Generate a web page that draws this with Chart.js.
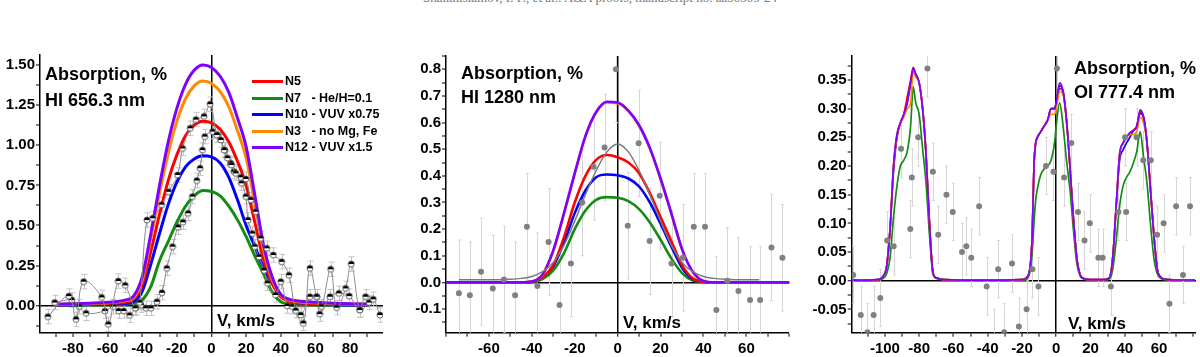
<!DOCTYPE html>
<html>
<head>
<meta charset="utf-8">
<title>Absorption profiles</title>
<script src="https://cdn.jsdelivr.net/npm/chart.js@4.4.1/dist/chart.umd.min.js"></script>
<style>
  html, body { margin: 0; padding: 0; background: #fff; }
  body { position: relative; width: 1200px; height: 357px; overflow: hidden;
         font-family: 'Liberation Sans', Arial, sans-serif; color: #000; }
  .panel { position: absolute; top: 0; width: 400px; height: 357px; }
  .panel canvas { position: absolute; left: 0; top: 0; }
  .note { position: absolute; font-weight: bold; font-size: 18px; line-height: 20px; white-space: nowrap; }
  .vlabel { position: absolute; font-weight: bold; font-size: 17px; line-height: 20px; white-space: nowrap; }
  .legend { position: absolute; left: 252px; top: 73px; font-weight: bold; font-size: 12.5px; }
  .legend .row { height: 16.5px; line-height: 16.5px; white-space: pre; }
  .legend .sw { display: inline-block; width: 31px; height: 3px; vertical-align: middle; margin-right: 2px; }
  .runhead { position: absolute; top: -10px; left: 0; width: 1200px; text-align: center;
             font: 13px 'Liberation Serif', serif; color: #777; }
</style>
</head>
<body>
<div class="runhead">Shaikhislamov, I. F., et al.: A&amp;A proofs, manuscript no. aa50309-24</div>

<div class="panel" style="left:0px"><canvas id="p1" width="400" height="357"></canvas></div>
<div class="panel" style="left:400px"><canvas id="p2" width="400" height="357"></canvas></div>
<div class="panel" style="left:800px"><canvas id="p3" width="400" height="357"></canvas></div>

<div class="note" style="left:45px; top:64px">Absorption, %</div>
<div class="note" style="left:45px; top:90px">HI 656.3 nm</div>
<div class="note" style="left:461px; top:63px">Absorption, %</div>
<div class="note" style="left:461px; top:87px">HI 1280 nm</div>
<div class="note" style="left:1074px; top:58px">Absorption, %</div>
<div class="note" style="left:1074px; top:82px">OI 777.4 nm</div>

<div class="vlabel" style="left:217px; top:311px">V, km/s</div>
<div class="vlabel" style="left:623px; top:313px">V, km/s</div>
<div class="vlabel" style="left:1068px; top:314px">V, km/s</div>

<div class="legend" id="legend"></div>

<script>
'use strict';

/* ─── Panel 1 : HI 656.3 nm ───────────────────────────── */
const P1_V   = [-90, -80, -70, -60, -50, -45, -40, -35, -30, -25, -20, -15, -10, -5, 0, 5, 10, 15, 20, 25, 30, 35, 40, 45, 50, 60, 70, 80, 90];
const P1_N5  = [0.006, 0.007, 0.010, 0.014, 0.022, 0.040, 0.130, 0.340, 0.570, 0.780, 0.940, 1.060, 1.125, 1.150, 1.140, 1.100, 1.020, 0.900, 0.750, 0.520, 0.290, 0.140, 0.055, 0.028, 0.018, 0.012, 0.009, 0.007, 0.006];
const P1_N7  = [0.002, 0.003, 0.004, 0.005, 0.008, 0.015, 0.035, 0.120, 0.280, 0.400, 0.520, 0.620, 0.685, 0.718, 0.712, 0.685, 0.620, 0.535, 0.430, 0.310, 0.200, 0.085, 0.025, 0.010, 0.006, 0.004, 0.003, 0.003, 0.002];
const P1_N10 = [0.004, 0.005, 0.007, 0.009, 0.014, 0.025, 0.090, 0.260, 0.450, 0.630, 0.770, 0.865, 0.915, 0.935, 0.927, 0.890, 0.800, 0.660, 0.500, 0.370, 0.240, 0.140, 0.060, 0.030, 0.018, 0.010, 0.007, 0.005, 0.004];
const P1_N3  = [0.008, 0.010, 0.013, 0.018, 0.030, 0.050, 0.160, 0.420, 0.700, 0.950, 1.150, 1.290, 1.370, 1.400, 1.385, 1.335, 1.240, 1.090, 0.920, 0.640, 0.350, 0.165, 0.065, 0.035, 0.025, 0.018, 0.013, 0.010, 0.008];
const P1_N12 = [0.010, 0.012, 0.016, 0.022, 0.035, 0.060, 0.180, 0.450, 0.750, 1.020, 1.230, 1.380, 1.467, 1.500, 1.485, 1.430, 1.330, 1.170, 0.990, 0.690, 0.380, 0.180, 0.070, 0.040, 0.030, 0.022, 0.016, 0.012, 0.010];

// two observed transits
const P1_OBS_A_V = [-94.5, -82.4, -78.2, -73.8, -63.4, -59.6, -53.8, -49.8, -44.0, -41.5, -37.3, -34.0, -28.8, -24.8, -19.6, -16.7, -12.3, -9.0, -4.3, -0.8, 3.1, 5.4, 7.3, 9.2, 11.5, 14.0, 17.0, 19.8, 22.7, 25.5, 28.4, 31.9, 35.7, 40.5, 44.7, 48.6, 53.0, 56.8, 60.7, 63.4, 68.8, 72.2, 77.4, 80.7, 85.6, 88.9, 93.4, 97.2];
const P1_OBS_A   = [-0.068, 0.060, -0.085, 0.150, 0.052, -0.116, 0.154, 0.127, -0.016, 0.020, 0.534, 0.545, 0.630, 0.710, 0.815, 0.980, 1.106, 1.160, 1.180, 1.256, 1.064, 1.033, 0.970, 0.920, 0.877, 0.825, 0.800, 0.790, 0.660, 0.586, 0.420, 0.358, 0.316, 0.274, 0.190, -0.030, -0.110, 0.233, 0.056, -0.006, 0.227, -0.012, 0.108, 0.260, -0.027, 0.056, 0.040, -0.058];
const P1_OBS_B_V = [-90.5, -80.7, -76.3, -72.4, -61.5, -56.7, -53.6, -50.7, -47.3, -43.6, -40.7, -37.9, -35.0, -31.5, -28.6, -25.8, -22.5, -19.3, -16.5, -13.5, -11.0, -8.5, -6.6, -5.2, -3.9, 0.6, 3.5, 7.7, 11.1, 13.0, 17.3, 19.8, 21.1, 23.6, 25.0, 27.4, 30.3, 32.3, 37.0, 40.0, 43.8, 46.7, 51.5, 56.8, 60.7, 62.4, 68.4, 73.5, 79.5, 85.6, 91.0];
const P1_OBS_B   = [0.020, 0.036, -0.006, -0.047, -0.033, -0.006, -0.033, -0.033, -0.060, -0.012, 0.004, -0.016, -0.016, 0.025, 0.081, 0.233, 0.368, 0.489, 0.520, 0.576, 0.680, 0.780, 0.857, 0.970, 1.054, 1.085, 1.064, 0.970, 0.888, 0.835, 0.763, 0.680, 0.534, 0.450, 0.368, 0.305, 0.220, 0.140, 0.067, 0.150, -0.002, -0.006, -0.058, 0.056, 0.056, -0.052, 0.056, 0.077, 0.060, -0.027, 0.020];
const P1_ERR = 0.045;

/* ─── Panel 2 : HI 1280 nm ────────────────────────────── */
const P2_V   = [-80, -45, -40, -35, -30, -25, -20, -15, -10, -5, 0, 5, 10, 15, 20, 25, 30, 35, 40, 45, 80];
const P2_N5  = [0, 0, 0.002, 0.020, 0.065, 0.170, 0.300, 0.400, 0.460, 0.478, 0.470, 0.450, 0.410, 0.335, 0.245, 0.155, 0.065, 0.015, 0.002, 0, 0];
const P2_N7  = [0, 0, 0.001, 0.012, 0.045, 0.110, 0.200, 0.270, 0.310, 0.320, 0.318, 0.305, 0.275, 0.225, 0.160, 0.090, 0.035, 0.007, 0.001, 0, 0];
const P2_N10 = [0, 0, 0.002, 0.020, 0.060, 0.150, 0.260, 0.345, 0.395, 0.405, 0.402, 0.390, 0.360, 0.300, 0.220, 0.135, 0.055, 0.012, 0.002, 0, 0];
const P2_N3  = [0, 0, 0.003, 0.029, 0.118, 0.258, 0.408, 0.548, 0.638, 0.676, 0.673, 0.643, 0.588, 0.503, 0.388, 0.258, 0.124, 0.040, 0.005, 0, 0];
const P2_N12 = [0, 0, 0.003, 0.030, 0.120, 0.260, 0.410, 0.550, 0.640, 0.678, 0.675, 0.645, 0.590, 0.505, 0.390, 0.260, 0.125, 0.040, 0.005, 0, 0];

const P2_FIT_V = [-74, -60, -50, -45, -40, -35, -30, -25, -20, -15, -10, -5, 0, 5, 10, 15, 20, 25, 30, 35, 40, 45, 50, 60, 66];
const P2_FIT   = [0.010, 0.010, 0.012, 0.015, 0.022, 0.040, 0.075, 0.140, 0.230, 0.330, 0.420, 0.490, 0.520, 0.490, 0.420, 0.330, 0.230, 0.140, 0.075, 0.040, 0.022, 0.015, 0.012, 0.010, 0.010];

const P2_OBS_V = [-74, -68.9, -63.7, -58.2, -53, -47.8, -42.3, -37.4, -32.2, -27.1, -21.8, -16.5, -11.2, -6.1, -0.8, 4.7, 9.8, 14.9, 19.6, 25.1, 30.4, 35.5, 40.7, 46, 51.1, 56.3, 61.7, 66.4, 71.7, 76.8];
const P2_OBS   = [-0.041, -0.048, 0.040, -0.023, 0.011, -0.048, 0.209, -0.014, 0.152, -0.085, 0.071, 0.300, 0.434, 0.506, 0.800, 0.213, 0.522, 0.155, 0.325, 0.071, 0.092, 0.209, 0.209, -0.104, 0.006, -0.032, -0.066, -0.066, 0.131, 0.092];
const P2_ERR = 0.2;

/* ─── Panel 3 : OI 777.4 nm ───────────────────────────── */
const P3_V   = [-120, -104, -101, -99, -97, -95, -93, -91, -89, -87, -85, -83.5, -82, -80, -78, -76, -74, -72, -70, -66, -40, -20, -17, -15, -14, -13, -12, -11, -9, -7, -5, -3, -1, 0, 2, 4, 6, 8, 10, 12, 14, 16, 20, 28, 31, 33, 35, 37, 39, 41, 43, 45, 47, 49, 51, 53, 55, 57, 59, 61, 63, 66, 81];
const P3_N5  = [0.001, 0.002, 0.008, 0.025, 0.090, 0.200, 0.250, 0.275, 0.290, 0.320, 0.350, 0.372, 0.360, 0.345, 0.300, 0.220, 0.100, 0.015, 0.005, 0.002, 0.001, 0.002, 0.006, 0.030, 0.080, 0.200, 0.240, 0.250, 0.260, 0.270, 0.280, 0.300, 0.300, 0.310, 0.335, 0.330, 0.280, 0.200, 0.110, 0.040, 0.010, 0.004, 0.002, 0.002, 0.005, 0.040, 0.130, 0.220, 0.240, 0.250, 0.258, 0.262, 0.270, 0.295, 0.285, 0.240, 0.160, 0.080, 0.020, 0.006, 0.003, 0.002, 0.001];
const P3_N7  = [0.001, 0.001, 0.004, 0.012, 0.040, 0.110, 0.165, 0.200, 0.210, 0.225, 0.270, 0.338, 0.310, 0.290, 0.230, 0.170, 0.080, 0.012, 0.004, 0.002, 0.001, 0.001, 0.003, 0.020, 0.050, 0.100, 0.140, 0.160, 0.185, 0.195, 0.200, 0.210, 0.240, 0.270, 0.310, 0.270, 0.210, 0.160, 0.090, 0.030, 0.008, 0.003, 0.001, 0.001, 0.003, 0.020, 0.070, 0.130, 0.165, 0.180, 0.190, 0.205, 0.225, 0.260, 0.215, 0.170, 0.100, 0.040, 0.012, 0.004, 0.002, 0.001, 0.001];
const P3_N10 = [0.001, 0.002, 0.008, 0.025, 0.090, 0.190, 0.250, 0.275, 0.290, 0.310, 0.345, 0.365, 0.360, 0.345, 0.300, 0.220, 0.100, 0.015, 0.005, 0.002, 0.001, 0.002, 0.006, 0.030, 0.080, 0.200, 0.240, 0.250, 0.260, 0.270, 0.280, 0.300, 0.300, 0.310, 0.340, 0.330, 0.280, 0.200, 0.110, 0.040, 0.010, 0.004, 0.002, 0.002, 0.005, 0.040, 0.130, 0.210, 0.228, 0.240, 0.250, 0.262, 0.268, 0.292, 0.285, 0.240, 0.160, 0.080, 0.020, 0.006, 0.003, 0.002, 0.001];
const P3_N3  = [0.001, 0.002, 0.008, 0.025, 0.090, 0.200, 0.255, 0.275, 0.285, 0.300, 0.310, 0.365, 0.355, 0.345, 0.300, 0.220, 0.100, 0.015, 0.005, 0.002, 0.001, 0.002, 0.006, 0.030, 0.080, 0.200, 0.240, 0.250, 0.260, 0.270, 0.280, 0.290, 0.290, 0.300, 0.330, 0.325, 0.280, 0.200, 0.110, 0.040, 0.010, 0.004, 0.002, 0.002, 0.005, 0.040, 0.130, 0.220, 0.240, 0.250, 0.255, 0.255, 0.260, 0.285, 0.275, 0.240, 0.160, 0.080, 0.020, 0.006, 0.003, 0.002, 0.001];
const P3_N12 = [0.001, 0.002, 0.008, 0.025, 0.090, 0.200, 0.255, 0.275, 0.290, 0.310, 0.345, 0.370, 0.360, 0.345, 0.300, 0.220, 0.100, 0.015, 0.005, 0.002, 0.001, 0.002, 0.006, 0.030, 0.080, 0.200, 0.240, 0.250, 0.260, 0.270, 0.280, 0.300, 0.300, 0.310, 0.345, 0.330, 0.280, 0.200, 0.110, 0.040, 0.010, 0.004, 0.002, 0.002, 0.005, 0.040, 0.130, 0.220, 0.240, 0.250, 0.258, 0.262, 0.268, 0.298, 0.285, 0.240, 0.160, 0.080, 0.020, 0.006, 0.003, 0.002, 0.001];

const P3_OBS_V = [-118.5, -114.1, -110.2, -106.6, -102.7, -98.7, -94.9, -90.6, -85.2, -84.3, -80.6, -75.2, -72, -68.9, -64.1, -60.4, -55, -52.5, -49.6, -45, -40.6, -36.2, -33.9, -30.4, -25.8, -21.8, -17.3, -13.9, -10.4, -6, -1.6, 0.4, 4.6, 8.8, 12.7, 16.5, 19.6, 24.6, 27.1, 31.9, 36.3, 40.2, 40.8, 46.9, 50.8, 55.2, 58.9, 62.7, 66.1, 70, 74, 78.1];
const P3_OBS   = [0.01, -0.06, -0.09, -0.06, -0.03, 0.07, 0.06, 0.23, 0.09, 0.18, 0.25, 0.37, 0.19, 0.08, 0.15, 0.12, 0.05, 0.06, 0.04, 0.13, -0.01, -0.10, 0.02, -0.09, 0.03, -0.08, -0.05, 0.02, -0.01, 0.20, 0.19, 0.37, 0.18, 0.24, 0.12, 0.07, 0.10, 0.04, 0.04, -0.01, 0.12, 0.25, 0.12, 0.25, 0.21, 0.21, 0.08, 0.10, -0.04, 0.13, 0.01, 0.13];
const P3_ERR = 0.05;

/* ─── Legend / series names ───────────────────────────── */
const MODEL_KEYS  = ['N5', 'N7', 'N10', 'N3', 'N12'];
const MODEL_NAMES = ['N5', 'N7   - He/H=0.1', 'N10 - VUV x0.75', 'N3   - no Mg, Fe', 'N12 - VUV x1.5'];

const COLORS = {
  N5:  '#ff0000',
  N7:  '#148c14',
  N10: '#0000ff',
  N3:  '#ff8a00',
  N12: '#8000ff',
  obsLine: '#8a8a8a',
  obsDot:  '#808080',
  fitLine: '#7a7a7a',
  errLight: '#d6d6d6',
  errMid:   '#c4c4c4',
};
// which model sits on top (lower = drawn later)
const MODEL_ORDER = { N12: 1, N3: 2, N5: 3, N10: 4, N7: 5 };

const FONT_FAMILY = "'Liberation Sans', Arial, sans-serif";

function pts(xs, ys) {
  return xs.map((x, i) => ({ x, y: ys[i] }));
}

function isMultiple(v, m) {
  const q = v / m;
  return Math.abs(q - Math.round(q)) < 1e-6;
}

/* half-black, half-white marker used for the Hα data */
function halfDot(r) {
  const size = Math.ceil(2 * r + 2);
  const c = document.createElement('canvas');
  c.width = c.height = size;
  const g = c.getContext('2d');
  const m = size / 2;
  g.beginPath(); g.arc(m, m, r, 0, Math.PI * 2); g.fillStyle = '#fff'; g.fill();
  g.beginPath(); g.arc(m, m, r, Math.PI, Math.PI * 2); g.closePath(); g.fillStyle = '#000'; g.fill();
  g.beginPath(); g.arc(m, m, r, 0, Math.PI * 2); g.strokeStyle = '#444'; g.lineWidth = 0.8; g.stroke();
  return c;
}

/* ── vertical error bars drawn under the datasets ── */
const errorBars = {
  id: 'errorBars',
  beforeDatasetsDraw(chart) {
    const { ctx, chartArea: a, scales: { y } } = chart;
    ctx.save();
    ctx.beginPath();
    ctx.rect(a.left, a.top, a.right - a.left, a.bottom - a.top);
    ctx.clip();
    chart.data.datasets.forEach((ds, i) => {
      if (!ds.errorBar) return;
      ctx.strokeStyle = ds.errorColor;
      ctx.lineWidth = 1;
      chart.getDatasetMeta(i).data.forEach((el, j) => {
        const v = ds.data[j].y;
        const x = Math.round(el.x) + 0.5;
        const top = y.getPixelForValue(v + ds.errorBar);
        const bot = y.getPixelForValue(v - ds.errorBar);
        const cap = ds.errorCap;
        ctx.beginPath();
        ctx.moveTo(x, top); ctx.lineTo(x, bot);
        ctx.moveTo(x - cap, top); ctx.lineTo(x + cap, top);
        ctx.moveTo(x - cap, bot); ctx.lineTo(x + cap, bot);
        ctx.stroke();
      });
    });
    ctx.restore();
  }
};

function modelSets(v, series, width) {
  return MODEL_KEYS.map((k, i) => ({
    label: MODEL_NAMES[i],
    data: pts(v, series[k]),
    showLine: true,
    borderColor: COLORS[k],
    backgroundColor: COLORS[k],
    borderWidth: width,
    pointRadius: 0,
    cubicInterpolationMode: 'monotone',
    order: MODEL_ORDER[k],
  }));
}

function createPanel(id, opt) {
  const canvas = document.getElementById(id);
  const W = canvas.width, H = canvas.height;
  const tickFont = { family: FONT_FAMILY, size: 15, weight: 'bold' };
  const zeroLine = {
    color: c => (c.tick && Math.abs(c.tick.value) < 1e-9) ? '#000' : 'rgba(0,0,0,0)',
    lineWidth: c => (c.tick && Math.abs(c.tick.value) < 1e-9) ? 1.5 : 0,
    drawOnChartArea: true,
    drawTicks: true,
    tickLength: 4,
    tickColor: '#000',
    tickWidth: 1,
  };

  return new Chart(canvas, {
    type: 'scatter',
    data: { datasets: opt.datasets },
    options: {
      responsive: false,
      animation: false,
      events: [],
      layout: { padding: { left: 0, top: opt.area.top, right: W - opt.area.right, bottom: 0 } },
      plugins: { legend: { display: false }, tooltip: { enabled: false } },
      scales: {
        x: {
          type: 'linear',
          min: opt.x.min, max: opt.x.max,
          afterFit: s => { s.height = H - opt.area.bottom; },
          border: { display: true, color: '#000', width: 1.5 },
          grid: zeroLine,
          ticks: {
            stepSize: 10, includeBounds: false, autoSkip: false, maxRotation: 0, minRotation: 0,
            maxTicksLimit: 200, padding: 3, color: '#000', font: tickFont,
            callback: v => (isMultiple(v, 20) && v >= opt.x.labelMin && v <= opt.x.labelMax) ? String(Math.round(v)) : '',
          },
        },
        y: {
          type: 'linear',
          min: opt.y.min, max: opt.y.max,
          afterFit: s => { s.width = opt.area.left; },
          border: { display: true, color: '#000', width: 1.5 },
          grid: zeroLine,
          ticks: {
            stepSize: opt.y.step, includeBounds: false, autoSkip: false,
            maxTicksLimit: 200, padding: 1, color: '#000', font: tickFont,
            callback: v => isMultiple(v, opt.y.labelStep) ? v.toFixed(opt.y.decimals) : '',
          },
        },
      },
    },
    plugins: [errorBars],
  });
}

function init() {
  const dot = halfDot(3);

  const obsLine = (v, vals) => ({
    data: pts(v, vals),
    showLine: true,
    borderColor: COLORS.obsLine,
    borderWidth: 1,
    tension: 0.4,
    pointStyle: dot,
    pointRadius: 3,
    errorBar: P1_ERR, errorColor: COLORS.errMid, errorCap: 3,
    order: 0,
  });

  createPanel('p1', {
    area: { left: 40, top: 55, right: 383, bottom: 333 },
    x: { min: -99, max: 99, labelMin: -80, labelMax: 80 },
    y: { min: -0.17, max: 1.5625, step: 0.125, labelStep: 0.25, decimals: 2 },
    datasets: [
      obsLine(P1_OBS_A_V, P1_OBS_A),
      obsLine(P1_OBS_B_V, P1_OBS_B),
      ...modelSets(P1_V, { N5: P1_N5, N7: P1_N7, N10: P1_N10, N3: P1_N3, N12: P1_N12 }, 3),
    ],
  });

  createPanel('p2', {
    area: { left: 46, top: 56, right: 389.3, bottom: 332.7 },
    x: { min: -80, max: 80, labelMin: -60, labelMax: 60 },
    y: { min: -0.189, max: 0.85, step: 0.05, labelStep: 0.1, decimals: 1 },
    datasets: [
      {
        data: pts(P2_OBS_V, P2_OBS),
        showLine: false,
        pointStyle: 'circle', pointRadius: 3,
        backgroundColor: COLORS.obsDot, borderWidth: 0,
        errorBar: P2_ERR, errorColor: COLORS.errLight, errorCap: 1.5,
        order: 0,
      },
      {
        data: pts(P2_FIT_V, P2_FIT),
        showLine: true,
        borderColor: COLORS.fitLine, borderWidth: 1.5,
        pointRadius: 0, cubicInterpolationMode: 'monotone',
        order: 0.5,
      },
      ...modelSets(P2_V, { N5: P2_N5, N7: P2_N7, N10: P2_N10, N3: P2_N3, N12: P2_N12 }, 2.6),
    ],
  });

  createPanel('p3', {
    area: { left: 51.7, top: 56, right: 400, bottom: 332.7 },
    x: { min: -119.4, max: 81.6, labelMin: -100, labelMax: 60 },
    y: { min: -0.0907, max: 0.3919, step: 0.025, labelStep: 0.05, decimals: 2 },
    datasets: [
      {
        data: pts(P3_OBS_V, P3_OBS),
        showLine: false,
        pointStyle: 'circle', pointRadius: 3,
        backgroundColor: COLORS.obsDot, borderWidth: 0,
        errorBar: P3_ERR, errorColor: COLORS.errLight, errorCap: 1.5,
        order: 0,
      },
      ...modelSets(P3_V, { N5: P3_N5, N7: P3_N7, N10: P3_N10, N3: P3_N3, N12: P3_N12 }, 1.7),
    ],
  });

  /* ── legend for panel 1 ── */
  const legend = document.getElementById('legend');
  MODEL_KEYS.forEach((k, i) => {
    const row = document.createElement('div');
    row.className = 'row';
    const sw = document.createElement('span');
    sw.className = 'sw';
    sw.style.background = COLORS[k];
    row.appendChild(sw);
    row.appendChild(document.createTextNode(MODEL_NAMES[i]));
    legend.appendChild(row);
  });
}

init();
</script>
</body>
</html>
